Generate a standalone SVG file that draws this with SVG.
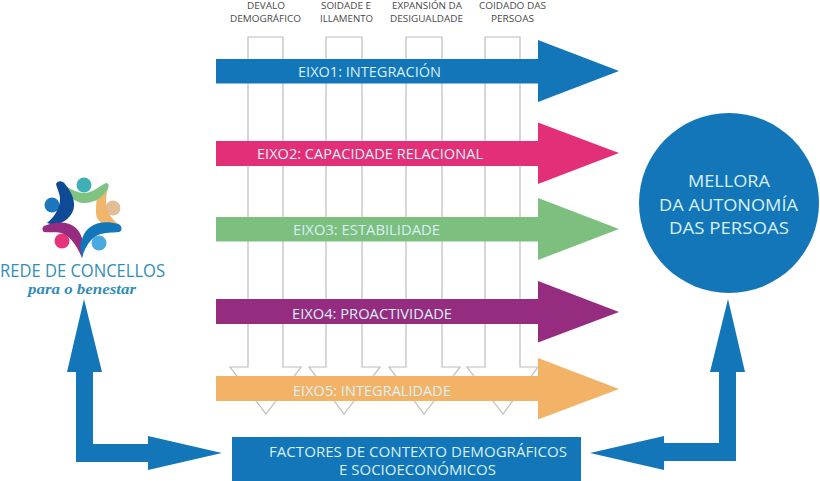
<svg xmlns="http://www.w3.org/2000/svg" width="820" height="481" viewBox="0 0 820 481">
<style>
text{font-family:"Open Sans","Noto Sans","Liberation Sans",sans-serif}
.l{fill:#d8f0f6;font-size:14px;font-weight:500}
.c{font-size:17px}
.t{fill:#4a4a4a;font-size:9.5px;font-weight:500}
.v{fill:#fff;stroke:#bdbdbd;stroke-width:1.2}
.b{fill:#1276b8}
</style>
<rect width="820" height="481" fill="#fff"/>
<g id="factor-labels">
<text class="t" x="247" y="9" textLength="38" lengthAdjust="spacingAndGlyphs">DEVALO</text>
<text class="t" x="230" y="22" textLength="71" lengthAdjust="spacingAndGlyphs">DEMOGRÁFICO</text>
<text class="t" x="321" y="9" textLength="50" lengthAdjust="spacingAndGlyphs">SOIDADE E</text>
<text class="t" x="320" y="22" textLength="53" lengthAdjust="spacingAndGlyphs">ILLAMENTO</text>
<text class="t" x="392" y="9" textLength="70" lengthAdjust="spacingAndGlyphs">EXPANSIÓN DA</text>
<text class="t" x="390" y="22" textLength="73" lengthAdjust="spacingAndGlyphs">DESIGUALDADE</text>
<text class="t" x="479" y="9" textLength="67" lengthAdjust="spacingAndGlyphs">COIDADO DAS</text>
<text class="t" x="491" y="22" textLength="43" lengthAdjust="spacingAndGlyphs">PERSOAS</text>
</g>
<g id="connectors">
<path class="v" d="M248 37H283V367H301L266 414L230 367H248Z"/>
<path class="v" d="M326 37H362V367H380L344 414L309 367H326Z"/>
<path class="v" d="M406 37H442V367H460L424 414L389 367H406Z"/>
<path class="v" d="M485 37H520V367H538L503 414L467 367H485Z"/>
<path class="b" d="M76 462V372H67L84 299L102 372H93V444H148V436L222 453L148 470V462Z"/>
<path class="b" d="M736 461V372H745L728 299L710 372H719V443H664V436L590 453L664 470V461Z"/>
</g>
<g id="eixo1">
<path fill="#1276b8" d="M216 59H538V40L619 71L538 102V83.500H216Z"/>
<text class="l" x="298" y="77" textLength="143" lengthAdjust="spacingAndGlyphs">EIXO1: INTEGRACIÓN</text>
</g>
<g id="eixo2">
<path fill="#e22f78" d="M216 141H538V122.500L619 153L538 184V166H216Z"/>
<text class="l" x="257" y="159" textLength="226" lengthAdjust="spacingAndGlyphs">EIXO2: CAPACIDADE RELACIONAL</text>
</g>
<g id="eixo3">
<path fill="#7cbf7e" d="M216 217H538V198L619 229L538 260V241.500H216Z"/>
<text class="l" x="293" y="235" textLength="147" lengthAdjust="spacingAndGlyphs">EIXO3: ESTABILIDADE</text>
</g>
<g id="eixo4">
<path fill="#952c80" d="M216 299H538V281L619 312L538 342.500V324H216Z"/>
<text class="l" x="292" y="319" textLength="160" lengthAdjust="spacingAndGlyphs">EIXO4: PROACTIVIDADE</text>
</g>
<g id="eixo5">
<path fill="#f3b366" d="M216 376H538V358L619 389L538 419.500V401H216Z"/>
<text class="l" x="293" y="396" textLength="158" lengthAdjust="spacingAndGlyphs">EIXO5: INTEGRALIDADE</text>
</g>
<g id="contexto">
<rect class="b" x="232" y="437" width="349" height="44"/>
<text class="l" x="269" y="457" textLength="298" lengthAdjust="spacingAndGlyphs">FACTORES DE CONTEXTO DEMOGRÁFICOS</text>
<text class="l" x="339" y="475" textLength="157" lengthAdjust="spacingAndGlyphs">E SOCIOECONÓMICOS</text>
</g>
<g id="mellora">
<circle class="b" cx="729" cy="203" r="90"/>
<text class="l c" x="688" y="187" textLength="82" lengthAdjust="spacingAndGlyphs">MELLORA</text>
<text class="l c" x="659" y="211" textLength="139" lengthAdjust="spacingAndGlyphs">DA AUTONOMÍA</text>
<text class="l c" x="669" y="234" textLength="120" lengthAdjust="spacingAndGlyphs">DAS PERSOAS</text>
</g>
<g id="rede-logo">
<circle cx="84" cy="185" r="7.500" fill="#3fb0b5"/>
<circle cx="113" cy="208" r="7.500" fill="#e3bd98"/>
<circle cx="52" cy="205" r="7.500" fill="#1c76bb"/>
<circle cx="62" cy="241" r="7.500" fill="#e6337c"/>
<circle cx="99" cy="243" r="7.500" fill="#4aa9e0"/>
<path fill="#f1b56c" d="M97 192L108 187C104 203 106 216 120 225L111 226C101 224 95 220 96 210C96 203 97 198 97 192Z"/>
<path fill="#7fc383" d="M63 185C73 190 78 193 84 193C92 193 98 187 106 183C109 183 109 186 108 189C102 198 94 203 84 203C74 203 68 195 63 185Z"/>
<path fill="#0f4a96" d="M56 184C58 180 63 181 65 184C75 196 77 208 70 216C66 221 60 224 54 225L47 223C56 216 60 206 60 199C60 193 57 189 56 184Z"/>
<path fill="#952c80" d="M44 226C56 221 68 221 76 228C81 233 83 240 84 246L82 258C78 248 72 238 64 234C57 231 50 233 44 232C42 231 42 227 44 226Z"/>
<path fill="#1276b8" d="M118 224C104 220 93 223 86 231C83 235 81 241 80 246L82 258C85 247 90 239 98 235C105 232 112 233 119 232C123 231 122 225 118 224Z"/>
<text x="0" y="277" font-size="17.500" font-weight="500" fill="#2f8db8" textLength="165" lengthAdjust="spacingAndGlyphs">REDE DE CONCELLOS</text>
<text x="28" y="294" font-size="15" font-weight="700" font-style="italic" fill="#2f8db8" textLength="108" lengthAdjust="spacingAndGlyphs" style="font-family:'Liberation Serif',serif">para o benestar</text>
</g>
</svg>
